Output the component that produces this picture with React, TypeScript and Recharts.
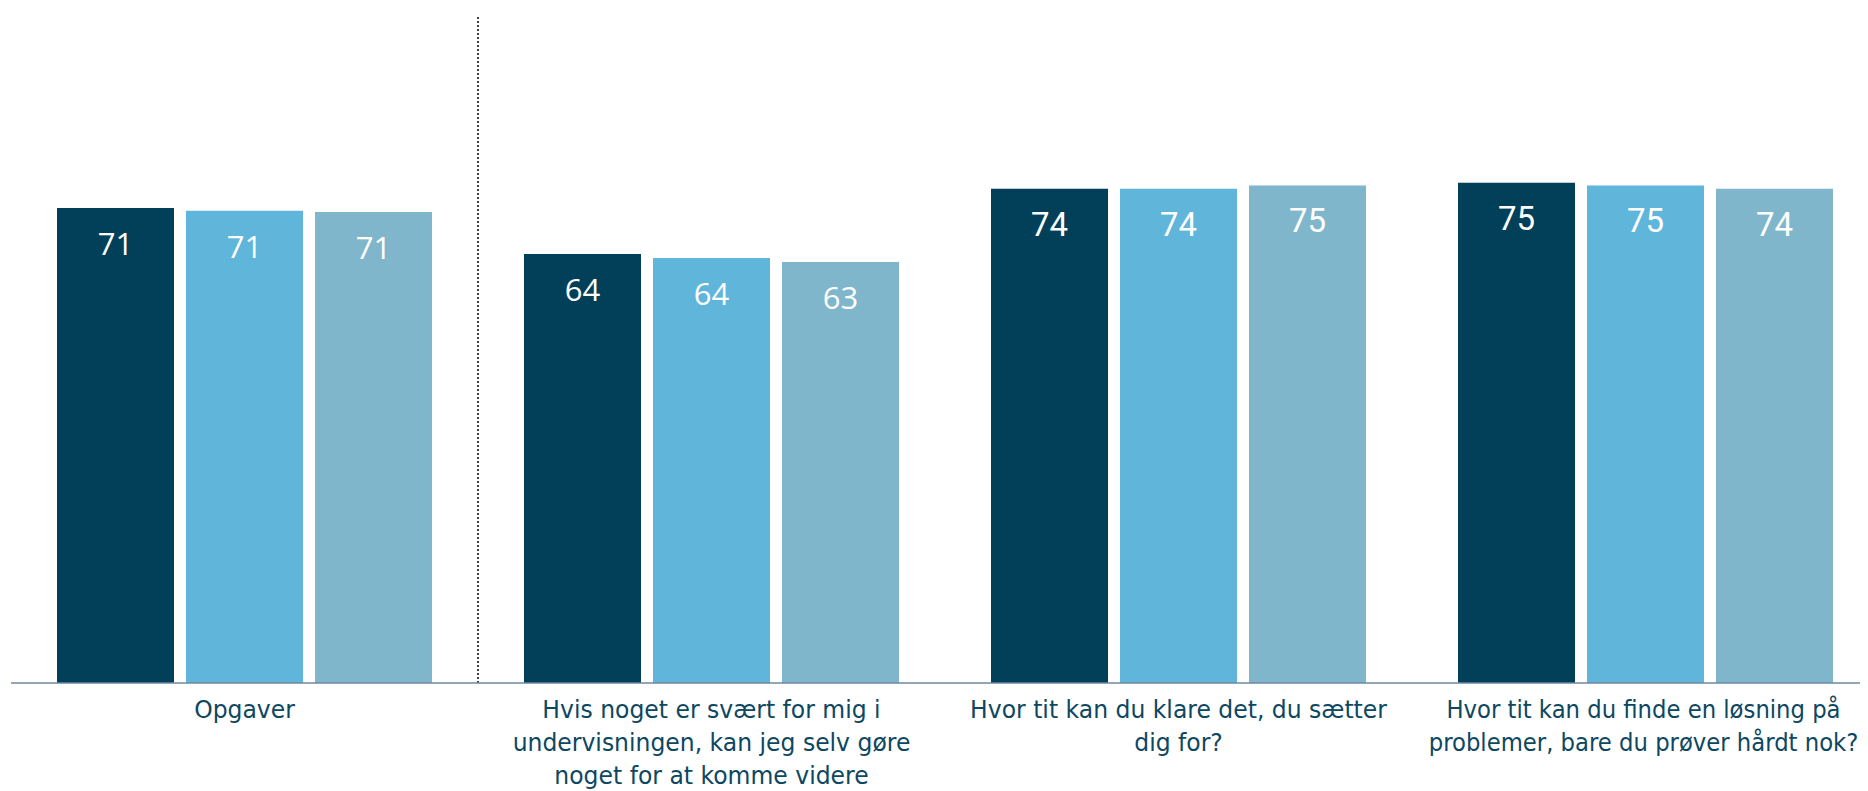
import { Bar, BarChart, LabelList, ReferenceLine, XAxis, YAxis } from "recharts";

const categories = [
  "Opgaver",
  "Hvis noget er svært for mig i undervisningen, kan jeg selv gøre noget for at komme videre",
  "Hvor tit kan du klare det, du sætter dig for?",
  "Hvor tit kan du finde en løsning på problemer, bare du prøver hårdt nok?",
];

// wrapped tick lines, same order as categories
const tickLines = [
  ["Opgaver"],
  ["Hvis noget er svært for mig i", "undervisningen, kan jeg selv gøre", "noget for at komme videre"],
  ["Hvor tit kan du klare det, du sætter", "dig for?"],
  ["Hvor tit kan du finde en løsning på", "problemer, bare du prøver hårdt nok?"],
];

const series1 = [71.2, 64.3, 74.1, 75.0];
const series2 = [70.8, 63.7, 74.1, 74.6];
const series3 = [70.6, 63.1, 74.6, 74.1];

const data = categories.map((name, i) => ({
  name,
  s1: series1[i],
  s2: series2[i],
  s3: series3[i],
}));

const COLORS = ["#023f58", "#5fb5da", "#80b6cb"];
const TEXT = "#0d4761";
// horizontal squeeze per label, the source font is a narrower Tahoma-like face
const SQUEEZE = [0.94, 0.94, 0.94, 0.91];

const CategoryTick = (props: any) => {
  const { x, y, payload } = props;
  const idx = categories.indexOf(payload.value);
  const lines = tickLines[idx] || [payload.value];
  return (
    <g transform={`translate(${x - (idx === 3 ? 2 : 0)},${y}) scale(${SQUEEZE[idx] ?? 0.94},1)`}>
      <text
        x={0}
        y={35}
        textAnchor="middle"
        fill={TEXT}
        fontFamily="'DejaVu Sans', Verdana, sans-serif"
        fontSize={25}
      >
        {lines.map((l, i) => (
          <tspan key={i} x={0} dy={i === 0 ? 0 : 33}>
            {l}
          </tspan>
        ))}
      </text>
    </g>
  );
};

const ValueLabel = (props: any) => {
  const { x, y, width, value, index } = props;
  const roboto = index >= 2;
  return (
    <text
      x={x + width / 2}
      y={y + 47}
      textAnchor="middle"
      fill="#ffffff"
      fontFamily={roboto ? "Roboto, sans-serif" : "'Open Sans', sans-serif"}
      fontSize={roboto ? 33 : 31}
    >
      {Math.round(value)}
    </text>
  );
};

export default function App() {
  return (
    <div style={{ width: 1868, height: 791, margin: "-8px 0 0 -8px", overflow: "hidden", background: "#fff" }}>
      <BarChart
        width={1880}
        height={791}
        data={data}
        margin={{ top: 16, right: 1, bottom: 78, left: 11 }}
        barSize={117}
        barGap={12}
      >
        <XAxis
          dataKey="name"
          axisLine={{ stroke: "#6f88a1", strokeWidth: 1.5 }}
          tickLine={false}
          tickSize={0}
          tickMargin={0}
          interval={0}
          tick={<CategoryTick />}
        />
        <YAxis hide domain={[0, 100]} />
        <ReferenceLine
          x="Opgaver"
          position="end"
          stroke="#000"
          strokeWidth={1.5}
          strokeDasharray="2 2"
        />
        <Bar dataKey="s1" fill={COLORS[0]} isAnimationActive={false}>
          <LabelList dataKey="s1" content={<ValueLabel />} />
        </Bar>
        <Bar dataKey="s2" fill={COLORS[1]} isAnimationActive={false}>
          <LabelList dataKey="s2" content={<ValueLabel />} />
        </Bar>
        <Bar dataKey="s3" fill={COLORS[2]} isAnimationActive={false}>
          <LabelList dataKey="s3" content={<ValueLabel />} />
        </Bar>
      </BarChart>
    </div>
  );
}
